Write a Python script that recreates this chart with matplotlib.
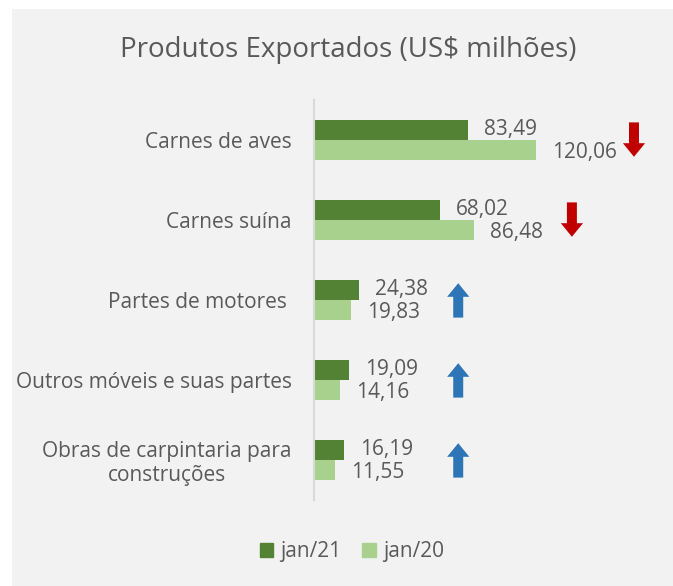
import matplotlib.pyplot as plt
from matplotlib.patches import Rectangle, FancyArrow
from matplotlib.patches import Patch

plt.rcParams['font.family'] = ['Open Sans', 'DejaVu Sans']

# Data
categories = ["Carnes de aves", "Carnes suína", "Partes de motores ",
              "Outros móveis e suas partes", "Obras de carpintaria para\nconstruções"]
jan21 = [83.49, 68.02, 24.38, 19.09, 16.19]
jan20 = [120.06, 86.48, 19.83, 14.16, 11.55]
series_names = ["jan/21", "jan/20"]

dark_green = "#548235"
light_green = "#a9d18e"
text_color = "#595959"

fig = plt.figure(figsize=(6.73, 5.86), dpi=100)
fig.patch.set_facecolor("white")
# gray chart panel
fig.patches.append(Rectangle((12 / 673, 0), 1, 1 - 9 / 586, transform=fig.transFigure,
                             facecolor="#f2f2f2", edgecolor="none", zorder=-1))

ax = fig.add_axes([314 / 673, 86 / 586, 336 / 673, 400 / 586])
ax.set_facecolor("none")

y = list(range(len(categories)))
h = 0.25
ax.barh([i - h / 2 for i in y], jan21, height=h, color=dark_green, label=series_names[0])
ax.barh([i + h / 2 for i in y], jan20, height=h, color=light_green, label=series_names[1])

ax.set_xlim(0, 336 / 1.849)
ax.set_ylim(len(categories) - 0.5, -0.5)

# value labels (offset from bar end)
off = 8.7
for i in y:
    ax.text(jan21[i] + off, i - h / 2, f"{jan21[i]:.2f}".replace(".", ","),
            va="center", ha="left", fontsize=15, color=text_color)
    ax.text(jan20[i] + off, i + h / 2 + 0.03, f"{jan20[i]:.2f}".replace(".", ","),
            va="center", ha="left", fontsize=15, color=text_color)

# up / down arrows showing the change
for i in y:
    ax_x = max(max(jan21[i], jan20[i]) + 53, 78)
    if jan21[i] < jan20[i]:
        arr = FancyArrow(ax_x, i - 0.22, 0, 0.43, width=5.4, head_width=12,
                         head_length=0.17, length_includes_head=True,
                         color="#c00000", ec="none")
    else:
        arr = FancyArrow(ax_x, i + 0.22, 0, -0.43, width=5.4, head_width=12,
                         head_length=0.17, length_includes_head=True,
                         color="#2e75b6", ec="none")
    ax.add_patch(arr)

ax.set_yticks(y)
ax.set_yticklabels(categories, fontsize=15, color=text_color, multialignment="center",
                   linespacing=1.15)
ax.tick_params(axis="y", length=0, pad=16)
ax.set_xticks([])
for s in ["top", "right", "bottom"]:
    ax.spines[s].set_visible(False)
ax.spines["left"].set_color("#d9d9d9")
ax.spines["left"].set_linewidth(1.5)

fig.text(348 / 673, 1 - 50 / 586, "Produtos Exportados (US$ milhões)",
         ha="center", va="center", fontsize=20, color=text_color)

handles = [Patch(color=dark_green), Patch(color=light_green)]
fig.legend(handles, series_names, loc="center", bbox_to_anchor=(352 / 673, 34 / 586),
           ncol=2, frameon=False, fontsize=15, labelcolor=text_color,
           handlelength=0.65, handleheight=0.65, handletextpad=0.35, columnspacing=1.0)

plt.savefig("out.png", dpi=100)
